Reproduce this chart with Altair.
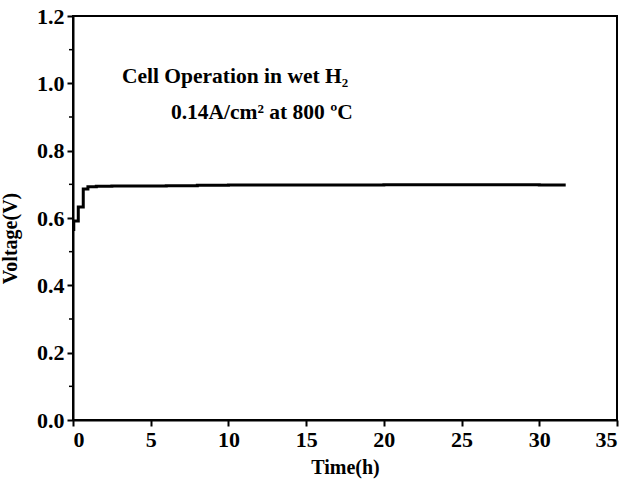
import altair as alt
import pandas as pd

# Stability test: cell voltage over time
time_h = [0.0, 0.05, 0.33, 0.34, 0.65, 0.66, 0.95, 0.96, 1.5, 2.5, 4, 6, 8, 10, 12,
          15, 18, 20, 22, 25, 28, 30, 31.7]
voltage_v = [0.566, 0.591, 0.591, 0.633, 0.633, 0.686, 0.686, 0.693, 0.694, 0.695,
             0.695, 0.696, 0.697, 0.698, 0.698, 0.698, 0.698, 0.699, 0.699, 0.699,
             0.699, 0.698, 0.698]

x_ticks = [0, 5, 10, 15, 20, 25, 30, 35]
y_ticks = [0.0, 0.2, 0.4, 0.6, 0.8, 1.0, 1.2]
y_minor = [0.1, 0.3, 0.5, 0.7, 0.9, 1.1]

note_text = ["Cell Operation in wet H₂", "0.14A/cm² at 800 ºC"]
note_x = [3.15, 6.3]
note_y = [1.018, 0.913]

FONT = "Liberation Serif"

series = pd.DataFrame({"t": time_h, "v": voltage_v})
notes = pd.DataFrame({"label": note_text, "t": note_x, "v": note_y})
minor = pd.DataFrame({"v": y_minor})

x_scale = alt.Scale(domain=[0, 35], nice=False, zero=False)
y_scale = alt.Scale(domain=[0, 1.2], nice=False, zero=False)

common = dict(
    grid=False,
    domainColor="black",
    domainWidth=2,
    tickColor="black",
    tickWidth=2,
    tickSize=6,
    labelFont=FONT,
    labelFontWeight="bold",
    labelFontSize=22,
    labelColor="black",
    titleFont=FONT,
    titleFontWeight="bold",
    titleFontSize=20,
    titleColor="black",
)
x_axis = alt.Axis(values=x_ticks, format="d", labelPadding=3, titlePadding=7, **common)
y_axis = alt.Axis(values=y_ticks, format=".1f", labelPadding=3,
                  titleX=-53, titleY=222, **common)

X = alt.X("t:Q", scale=x_scale, title="Time(h)", axis=x_axis)
Y = alt.Y("v:Q", scale=y_scale, title="Voltage(V)", axis=y_axis)

line = alt.Chart(series).mark_line(
    interpolate="step-after", color="black", strokeWidth=3
).encode(x=X, y=Y)

minor_ticks = alt.Chart(minor).mark_rule(color="black", strokeWidth=1.5).encode(
    y=Y,
    x=alt.value(-4),
    x2=alt.value(0),
)

text = alt.Chart(notes).mark_text(
    align="left", baseline="middle", font=FONT, fontWeight="bold",
    fontSize=21.5, color="black"
).encode(x=X, y=Y, text="label:N")

chart = alt.layer(line, minor_ticks, text).properties(
    width=544,
    height=404,
    autosize=alt.AutoSizeParams(type="none"),
    padding={"left": 73, "top": 16, "right": 12, "bottom": 64},
    background="white",
).configure_view(
    stroke="black", strokeWidth=2
)

chart.save("out.html", embed_options={"renderer": "svg", "actions": False})
